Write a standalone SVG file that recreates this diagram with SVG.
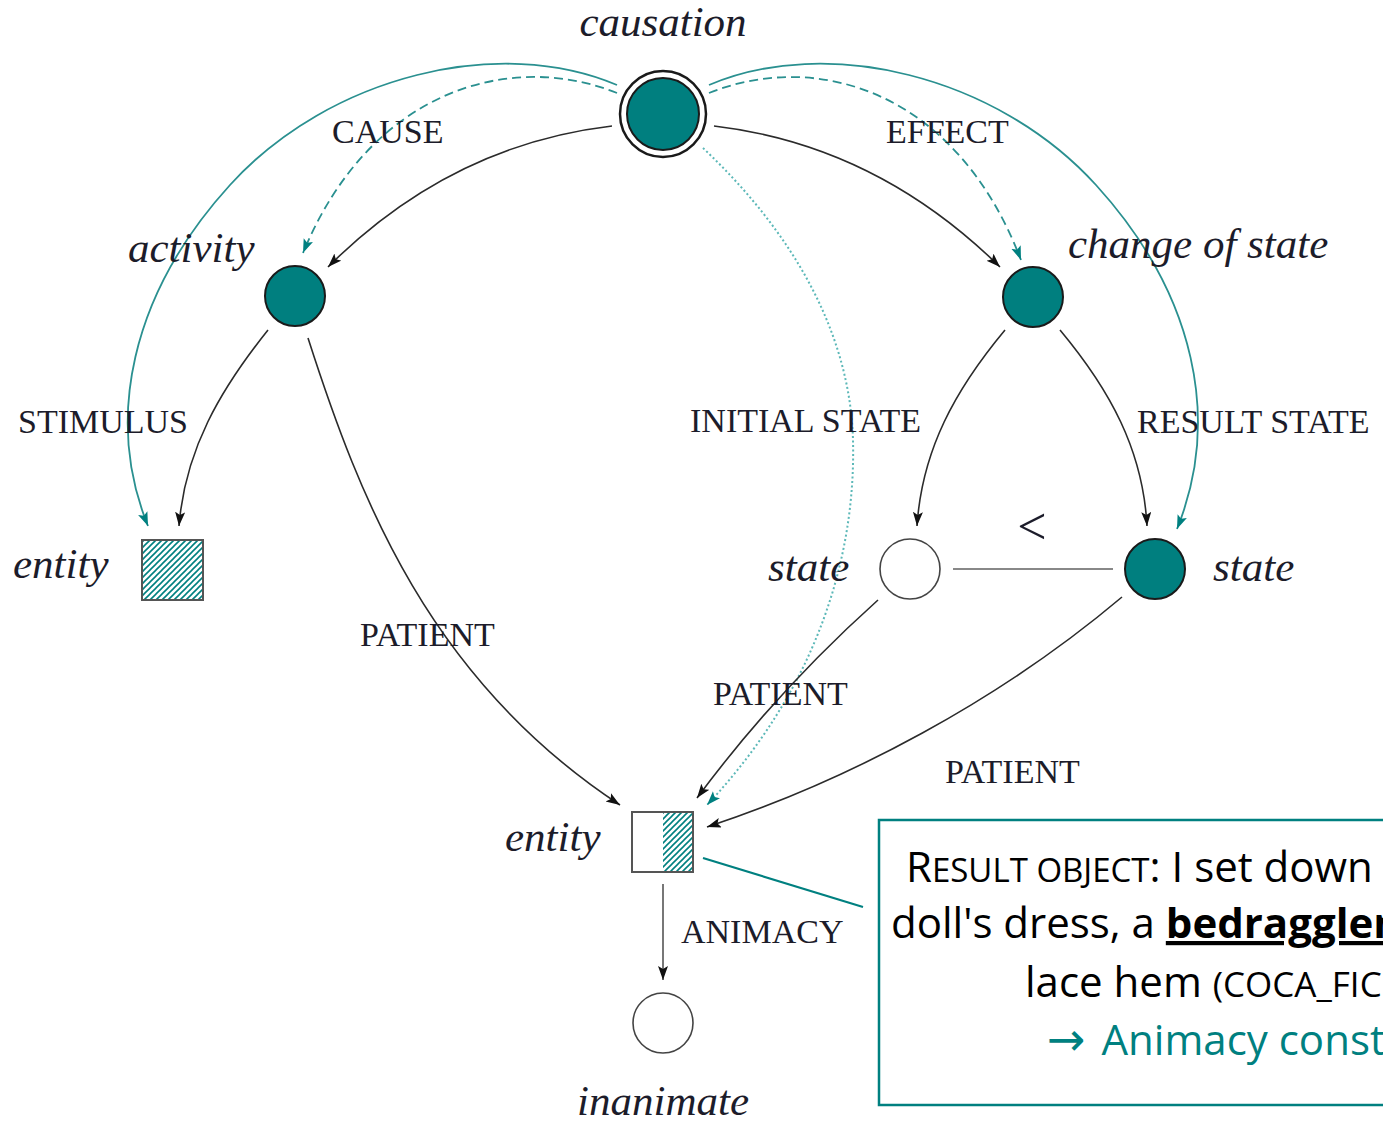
<svg xmlns="http://www.w3.org/2000/svg" width="1383" height="1123" viewBox="0 0 1383 1123">
<style>
.lbl{font-family:"Liberation Serif",serif;font-size:34px;fill:#1c1c2a;}
.it{font-family:"Liberation Serif",serif;font-style:italic;font-size:43px;fill:#1c1c2a;}
.blk{fill:none;stroke:#2b2b2b;stroke-width:1.6;}
.tl{fill:none;stroke:#2a9090;stroke-width:1.8;}
.td{fill:none;stroke:#2a9090;stroke-width:1.8;stroke-dasharray:9 5;}
.tdot{fill:none;stroke:#5cb8b8;stroke-width:2;stroke-dasharray:2 2.5;}
.fillnode{fill:#007f7f;stroke:#1a1a1a;stroke-width:2;}
.open{fill:#fff;stroke:#444;stroke-width:1.6;}
.box{font-family:"Open Sans","Liberation Sans",sans-serif;font-size:42px;fill:#000;}
</style>
<defs>
<marker id="ab" markerUnits="userSpaceOnUse" markerWidth="16" markerHeight="12" refX="14" refY="5" orient="auto"><path d="M0,0 L14,5 L0,10 L3,5 z" fill="#111"/></marker>
<marker id="at" markerUnits="userSpaceOnUse" markerWidth="16" markerHeight="12" refX="14" refY="5" orient="auto"><path d="M0,0 L14,5 L0,10 L3,5 z" fill="#008080"/></marker>
<pattern id="hatch" patternUnits="userSpaceOnUse" width="6" height="6">
<path d="M-1,1 l2,-2 M0,6 l6,-6 M5,7 l2,-2" stroke="#008080" stroke-width="1.6"/>
</pattern>
</defs>

<g id="connectors">
<path class="blk" d="M612,126 Q450,145 328,267" marker-end="url(#ab)"/>
<path class="blk" d="M714,126 Q876,145 1000,267" marker-end="url(#ab)"/>
<path class="td" d="M617,93 C510,50 370,90 303,253" marker-end="url(#at)"/>
<path class="td" d="M709,93 C816,50 956,90 1021,260" marker-end="url(#at)"/>
<path class="tl" d="M617,85 C500,35 330,75 230,185 S105,420 148,526" marker-end="url(#at)"/>
<path class="tl" d="M709,85 C826,35 996,75 1096,185 S1221,420 1177,529" marker-end="url(#at)"/>
<path class="tdot" d="M703,148 C790,230 850,330 853,440 C856,560 815,690 707,805" marker-end="url(#at)"/>
<path class="blk" d="M268,330 C220,390 185,450 179,526" marker-end="url(#ab)"/>
<path class="blk" d="M308,338 C360,500 430,680 620,805" marker-end="url(#ab)"/>
<path class="blk" d="M1005,330 C955,390 922,450 917,526" marker-end="url(#ab)"/>
<path class="blk" d="M1060,330 C1110,390 1143,450 1147,526" marker-end="url(#ab)"/>
<path class="blk" d="M878,600 C800,670 740,740 697,798" marker-end="url(#ab)"/>
<path class="blk" d="M1122,597 C1000,700 850,780 707,827" marker-end="url(#ab)"/>
<path d="M663,884 L663,980" fill="none" stroke="#777" stroke-width="2" marker-end="url(#ab)"/>
<line x1="953" y1="569" x2="1113" y2="569" stroke="#888" stroke-width="2"/>
<line x1="703" y1="858" x2="863" y2="907" stroke="#008080" stroke-width="2.2"/>
</g>

<g id="edge-labels">
<text class="lbl" x="332" y="143">CAUSE</text>
<text class="lbl" x="886" y="143">EFFECT</text>
<text class="lbl" x="18" y="433">STIMULUS</text>
<text class="lbl" x="690" y="432">INITIAL STATE</text>
<text class="lbl" x="1137" y="433">RESULT STATE</text>
<text class="lbl" x="360" y="646">PATIENT</text>
<text class="lbl" x="713" y="705">PATIENT</text>
<text class="lbl" x="945" y="783">PATIENT</text>
<text class="lbl" x="681" y="943">ANIMACY</text>
<text x="1032" y="544" text-anchor="middle" style="font-family:'Liberation Serif',serif;font-size:52px;fill:#1c1c2a">&lt;</text>
</g>

<g id="causation">
<circle cx="663" cy="114" r="43" fill="#fff" stroke="#1a1a1a" stroke-width="2.5"/>
<circle class="fillnode" cx="663" cy="114" r="36"/>
<text class="it" x="663" y="36" text-anchor="middle">causation</text>
</g>
<g id="activity">
<circle class="fillnode" cx="295" cy="296" r="30"/>
<text class="it" x="128" y="262">activity</text>
</g>
<g id="change-of-state">
<circle class="fillnode" cx="1033" cy="297" r="30"/>
<text class="it" x="1068" y="258">change of state</text>
</g>
<g id="entity-left">
<rect x="142" y="540" width="61" height="60" fill="url(#hatch)" stroke="#555" stroke-width="2"/>
<text class="it" x="13" y="578">entity</text>
</g>
<g id="state-left">
<circle class="open" cx="910" cy="569" r="30"/>
<text class="it" x="768" y="581">state</text>
</g>
<g id="state-right">
<circle class="fillnode" cx="1155" cy="569" r="30"/>
<text class="it" x="1213" y="581">state</text>
</g>
<g id="entity-bottom">
<rect x="663" y="812" width="30" height="60" fill="url(#hatch)"/>
<rect x="632" y="812" width="61" height="60" fill="none" stroke="#555" stroke-width="2"/>
<text class="it" x="505" y="851">entity</text>
</g>
<g id="inanimate">
<circle class="open" cx="663" cy="1023" r="30"/>
<text class="it" x="663" y="1115" text-anchor="middle">inanimate</text>
</g>

<g id="example-box">
<rect x="879" y="820" width="520" height="285" fill="none" stroke="#008080" stroke-width="2.5"/>
<text class="box" x="906" y="882">R<tspan font-size="33">ESULT OBJECT</tspan>: I set down</text>
<text class="box" x="891" y="938">doll's dress, a <tspan font-weight="bold" text-decoration="underline">bedragglem</tspan></text>
<text class="box" x="1025" y="997">lace hem <tspan font-size="35">(COCA_FIC</tspan></text>
<text class="box" x="1047" y="1055" style="fill:#008080"><tspan style="font-family:'DejaVu Sans',sans-serif" font-size="46">→</tspan><tspan dx="16">Animacy const</tspan></text>
</g>
</svg>
